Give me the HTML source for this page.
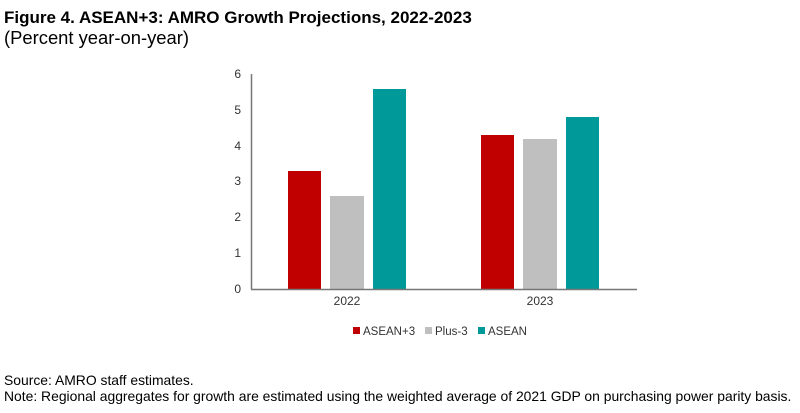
<!DOCTYPE html>
<html><head><style>
body{margin:0;width:800px;height:408px;background:#fff;font-family:"Liberation Sans",Arial,sans-serif;overflow:hidden}
</style></head><body>
<svg width="800" height="408" xmlns="http://www.w3.org/2000/svg" font-family="Liberation Sans, Arial, sans-serif">
<text x="4" y="23" font-size="17" font-weight="bold" fill="#000">Figure 4. ASEAN+3: AMRO Growth Projections, 2022-2023</text>
<text x="4" y="44" font-size="18.4" fill="#000">(Percent year-on-year)</text>
<g font-size="12" fill="#333" text-anchor="end">
<text x="241" y="78">6</text><text x="241" y="114">5</text><text x="241" y="150">4</text>
<text x="241" y="185">3</text><text x="241" y="221">2</text><text x="241" y="257">1</text><text x="241" y="293">0</text>
</g>
<rect x="288" y="171" width="33" height="118" fill="#c00000"/>
<rect x="330" y="196" width="34" height="93" fill="#bfbfbf"/>
<rect x="373" y="89" width="33" height="200" fill="#009999"/>
<rect x="481" y="135" width="33" height="154" fill="#c00000"/>
<rect x="523" y="139" width="34" height="150" fill="#bfbfbf"/>
<rect x="566" y="117" width="33" height="172" fill="#009999"/>
<line x1="251.5" y1="74" x2="251.5" y2="289.5" stroke="#777" stroke-width="1.5"/>
<line x1="251" y1="289.5" x2="637" y2="289.5" stroke="#777" stroke-width="1.5"/>
<g font-size="12" fill="#333" text-anchor="middle">
<text x="347" y="305">2022</text><text x="540" y="305">2023</text>
</g>
<g font-size="11.5" fill="#333">
<rect x="353" y="327" width="7" height="7" fill="#c00000"/><text x="363" y="335">ASEAN+3</text>
<rect x="425" y="327" width="7" height="7" fill="#bfbfbf"/><text x="435" y="335">Plus-3</text>
<rect x="478" y="327" width="7" height="7" fill="#009999"/><text x="488" y="335">ASEAN</text>
</g>
<g font-size="13.9" fill="#000">
<text x="4" y="385">Source: AMRO staff estimates.</text>
<text x="4" y="401">Note: Regional aggregates for growth are estimated using the weighted average of 2021 GDP on purchasing power parity basis.</text>
</g>
</svg>
</body></html>
